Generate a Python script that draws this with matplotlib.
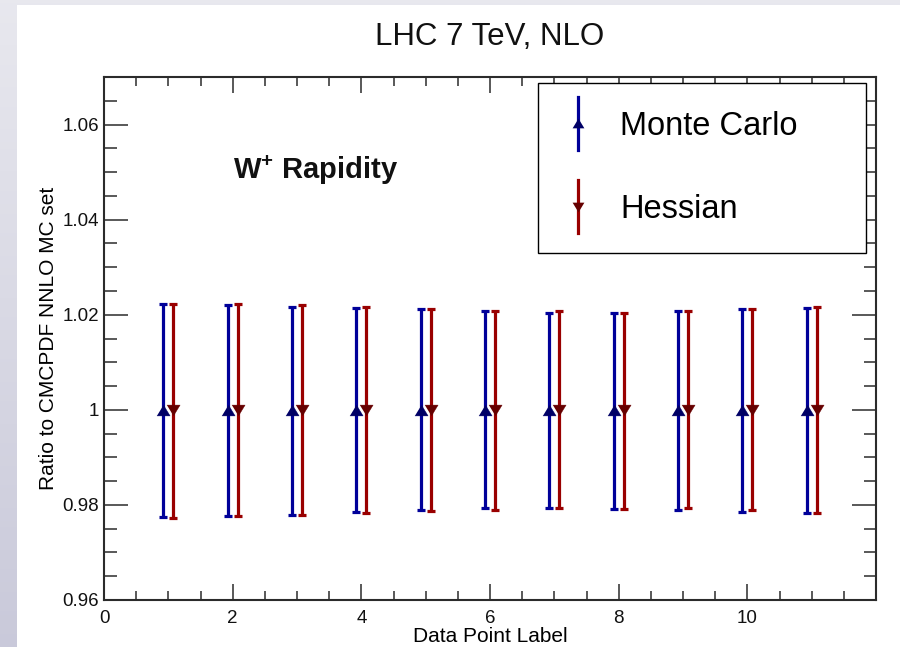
import numpy as np
import matplotlib
matplotlib.use("Agg")
import matplotlib.pyplot as plt
from matplotlib.lines import Line2D
from matplotlib.legend_handler import HandlerBase
from matplotlib.patches import Rectangle
from matplotlib.ticker import MultipleLocator

plt.rcParams["font.family"] = ["Liberation Sans", "DejaVu Sans"]
plt.rcParams["mathtext.fontset"] = "custom"
plt.rcParams["mathtext.rm"] = "Liberation Sans"
plt.rcParams["mathtext.bf"] = "Liberation Sans:bold"

# ---- data -------------------------------------------------------------
points = np.array([1, 2, 3, 4, 5, 6, 7, 8, 9, 10, 11])
mc_central = [1.0, 1.0, 1.0, 1.0, 1.0, 1.0, 1.0, 1.0, 1.0, 1.0, 1.0]
mc_up = [0.0223, 0.0220, 0.0217, 0.0214, 0.0211, 0.0207, 0.0203, 0.0203, 0.0207, 0.0211, 0.0214]
mc_down = [0.0225, 0.0224, 0.0221, 0.0214, 0.0211, 0.0207, 0.0207, 0.0208, 0.0211, 0.0214, 0.0217]
hess_central = [1.0, 1.0, 1.0, 1.0, 1.0, 1.0, 1.0, 1.0, 1.0, 1.0, 1.0]
hess_up = [0.0223, 0.0223, 0.0220, 0.0217, 0.0213, 0.0207, 0.0207, 0.0203, 0.0207, 0.0211, 0.0217]
hess_down = [0.0228, 0.0224, 0.0221, 0.0217, 0.0213, 0.0210, 0.0207, 0.0208, 0.0207, 0.0211, 0.0217]
x_ticks = [0, 2, 4, 6, 8, 10]
y_ticks = [0.96, 0.98, 1.0, 1.02, 1.04, 1.06]
y_ticklabels = ["0.96", "0.98", "1", "1.02", "1.04", "1.06"]
series_labels = ["Monte Carlo", "Hessian"]

MC_LINE, MC_MARK = "#000099", "#000066"
HS_LINE, HS_MARK = "#990000", "#660000"
UP_TRI = [(-1, -0.82), (1, -0.82), (0, 0.82)]
DOWN_TRI = [(-1, 0.82), (1, 0.82), (0, -0.82)]
OFFSET = 0.08

W, H = 900, 647
fig = plt.figure(figsize=(W / 100, H / 100), dpi=100)

# canvas background: soft lavender frame with a white pad
bg = fig.add_axes([0, 0, 1, 1], zorder=-10)
ny, nx = 200, 200
yy = np.linspace(0, 1, ny)[:, None]
top_col = np.array([0.91, 0.91, 0.935])
bot_col = np.array([0.79, 0.79, 0.855])
img = top_col[None, None, :] * (1 - yy[..., None]) + bot_col[None, None, :] * yy[..., None]
img = img * np.ones((ny, nx, 1))
bg.imshow(img, extent=[0, 1, 0, 1], aspect="auto", origin="upper")
bg.set_xlim(0, 1)
bg.set_ylim(0, 1)
bg.axis("off")
bg.add_patch(Rectangle((17 / W, 0), 1 - 17 / W, 1 - 5 / H, facecolor="white",
                       edgecolor="none", transform=bg.transAxes))

ax = fig.add_axes([104 / W, 47 / H, 772 / W, 523 / H])
ax.set_facecolor("white")

common = dict(linestyle="none", elinewidth=2.3, capsize=3.0, capthick=2.3,
              markersize=9.5)
mc = ax.errorbar(points - OFFSET, mc_central, yerr=[mc_down, mc_up],
                 color=MC_LINE, ecolor=MC_LINE, marker=UP_TRI,
                 markerfacecolor=MC_MARK, markeredgecolor=MC_MARK, zorder=3, **common)
hs = ax.errorbar(points + OFFSET, hess_central, yerr=[hess_down, hess_up],
                 color=HS_LINE, ecolor=HS_LINE, marker=DOWN_TRI,
                 markerfacecolor=HS_MARK, markeredgecolor=HS_MARK, zorder=3, **common)
# thin outlines on the central markers only (caps keep their thickness)
for cont in (mc, hs):
    cont.lines[0].set_markeredgewidth(0.3)

ax.set_xlim(0, 12)
ax.set_ylim(0.96, 1.07)
ax.set_xticks(x_ticks)
ax.set_xticklabels([str(t) for t in x_ticks])
ax.set_yticks(y_ticks)
ax.set_yticklabels(y_ticklabels)
ax.xaxis.set_minor_locator(MultipleLocator(0.5))
ax.yaxis.set_minor_locator(MultipleLocator(0.005))

spine_col = "#2b2b2b"
for s in ax.spines.values():
    s.set_linewidth(1.5)
    s.set_color(spine_col)
ax.tick_params(which="both", direction="in", top=True, right=True,
               color=spine_col, width=1.1, labelsize=13.5, labelcolor="#111111")
ax.tick_params(axis="x", which="major", length=11.5, pad=7)
ax.tick_params(axis="x", which="minor", length=6.5)
ax.tick_params(axis="y", which="major", length=17, pad=3.5)
ax.tick_params(axis="y", which="minor", length=9)

ax.set_xlabel("Data Point Label", fontsize=15, labelpad=0)
ax.set_ylabel("Ratio to CMCPDF NNLO MC set", fontsize=15, labelpad=3)


class VBarHandler(HandlerBase):
    """Legend entry: a vertical line with the marker at its middle."""

    def create_artists(self, legend, orig_handle, xdescent, ydescent,
                       width, height, fontsize, trans):
        cx = width / 2 - xdescent
        cy = height / 2 - ydescent
        half = 0.81 * fontsize
        line = Line2D([cx, cx], [cy - half, cy + half],
                      color=orig_handle.get_color(), lw=2.3)
        mk = Line2D([cx], [cy], marker=orig_handle.get_marker(), linestyle="none",
                    markersize=8.5, markeredgewidth=0,
                    markerfacecolor=orig_handle.get_markerfacecolor())
        line.set_transform(trans)
        mk.set_transform(trans)
        return [line, mk]


h_mc = Line2D([], [], color=MC_LINE, marker=UP_TRI, markerfacecolor=MC_MARK)
h_hs = Line2D([], [], color=HS_LINE, marker=DOWN_TRI, markerfacecolor=HS_MARK)
leg = ax.legend([h_mc, h_hs], series_labels,
                handler_map={Line2D: VBarHandler()},
                loc="upper left", bbox_to_anchor=(538 / W, 1 - 83 / H, 328 / W, 0.0),
                bbox_transform=fig.transFigure, mode="expand",
                fontsize=23.5, frameon=True, fancybox=False, shadow=False,
                borderpad=0.85, labelspacing=1.6, handlelength=0.75,
                handletextpad=0.92, borderaxespad=0)
leg.get_frame().set_edgecolor("black")
leg.get_frame().set_linewidth(1.0)
leg.get_frame().set_facecolor("white")
leg.get_frame().set_alpha(1)

fig.text(490 / W, 1 - 37 / H, "LHC 7 TeV, NLO", ha="center", va="center",
         fontsize=22.5, color="#111111")
fig.text(233 / W, 1 - 170 / H, r"W$^{\mathbf{+}}$ Rapidity", ha="left", va="center",
         fontsize=21, fontweight="bold", color="#111111")

fig.savefig("out.png", dpi=100)
